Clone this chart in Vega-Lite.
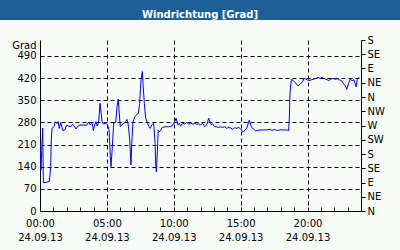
{
  "$schema": "https://vega.github.io/schema/vega-lite/v6.json",
  "autosize": "none",
  "width": 321,
  "height": 171,
  "padding": {"left": 40, "top": 40, "right": 39, "bottom": 39},
  "background": "#f8fcf8",
  "config": {
    "view": {"stroke": null},
    "font": "DejaVu Sans",
    "axis": {
      "labelFont": "DejaVu Sans",
      "labelFontSize": 10,
      "labelColor": "#000000",
      "domainColor": "#000000",
      "tickColor": "#000000",
      "gridColor": "#000000",
      "gridDash": [4, 3],
      "gridOpacity": 1,
      "gridWidth": 1
    }
  },
  "data": {
    "values": [
      {"h": 0.0, "v": 214}, {"h": 0.07, "v": 129}, {"h": 0.2, "v": 262}, {"h": 0.25, "v": 89},
      {"h": 0.7, "v": 93}, {"h": 0.8, "v": 140}, {"h": 0.84, "v": 224}, {"h": 0.9, "v": 261},
      {"h": 1.05, "v": 266}, {"h": 1.14, "v": 282}, {"h": 1.25, "v": 277}, {"h": 1.35, "v": 282},
      {"h": 1.44, "v": 261}, {"h": 1.55, "v": 279}, {"h": 1.7, "v": 254}, {"h": 1.85, "v": 256},
      {"h": 2.0, "v": 271}, {"h": 2.15, "v": 268}, {"h": 2.3, "v": 266}, {"h": 2.44, "v": 274},
      {"h": 2.59, "v": 266}, {"h": 2.69, "v": 259}, {"h": 2.84, "v": 268}, {"h": 2.99, "v": 272},
      {"h": 3.24, "v": 271}, {"h": 3.49, "v": 271}, {"h": 3.64, "v": 281}, {"h": 3.74, "v": 272},
      {"h": 3.89, "v": 279}, {"h": 3.99, "v": 254}, {"h": 4.09, "v": 272}, {"h": 4.19, "v": 282},
      {"h": 4.28, "v": 268}, {"h": 4.39, "v": 285}, {"h": 4.49, "v": 340}, {"h": 4.54, "v": 319},
      {"h": 4.64, "v": 282}, {"h": 4.73, "v": 275}, {"h": 4.93, "v": 277}, {"h": 5.06, "v": 272},
      {"h": 5.16, "v": 256}, {"h": 5.26, "v": 171}, {"h": 5.31, "v": 140}, {"h": 5.41, "v": 203},
      {"h": 5.51, "v": 277}, {"h": 5.66, "v": 279}, {"h": 5.76, "v": 329}, {"h": 5.85, "v": 353},
      {"h": 5.91, "v": 319}, {"h": 6.0, "v": 266}, {"h": 6.11, "v": 272}, {"h": 6.26, "v": 277},
      {"h": 6.41, "v": 282}, {"h": 6.5, "v": 289}, {"h": 6.6, "v": 272}, {"h": 6.71, "v": 224},
      {"h": 6.8, "v": 145}, {"h": 6.86, "v": 214}, {"h": 6.95, "v": 282}, {"h": 7.1, "v": 298},
      {"h": 7.25, "v": 306}, {"h": 7.35, "v": 308}, {"h": 7.45, "v": 340}, {"h": 7.55, "v": 414},
      {"h": 7.65, "v": 440}, {"h": 7.7, "v": 403}, {"h": 7.8, "v": 340}, {"h": 7.9, "v": 293},
      {"h": 8.0, "v": 282}, {"h": 8.15, "v": 266}, {"h": 8.25, "v": 261}, {"h": 8.35, "v": 272},
      {"h": 8.5, "v": 277}, {"h": 8.6, "v": 214}, {"h": 8.65, "v": 151}, {"h": 8.7, "v": 124},
      {"h": 8.8, "v": 214}, {"h": 8.84, "v": 256}, {"h": 8.95, "v": 250}, {"h": 9.05, "v": 256},
      {"h": 9.14, "v": 264}, {"h": 9.35, "v": 266}, {"h": 9.59, "v": 266}, {"h": 9.85, "v": 268},
      {"h": 10.02, "v": 277}, {"h": 10.17, "v": 293}, {"h": 10.32, "v": 272}, {"h": 10.41, "v": 277},
      {"h": 10.52, "v": 268}, {"h": 10.67, "v": 277}, {"h": 10.82, "v": 275}, {"h": 10.97, "v": 279},
      {"h": 11.12, "v": 275}, {"h": 11.27, "v": 277}, {"h": 11.42, "v": 274}, {"h": 11.57, "v": 277},
      {"h": 11.72, "v": 274}, {"h": 11.87, "v": 275}, {"h": 12.02, "v": 273}, {"h": 12.17, "v": 277},
      {"h": 12.32, "v": 266}, {"h": 12.41, "v": 270}, {"h": 12.51, "v": 277}, {"h": 12.61, "v": 293},
      {"h": 12.71, "v": 282}, {"h": 12.81, "v": 272}, {"h": 12.91, "v": 275}, {"h": 13.06, "v": 266},
      {"h": 13.21, "v": 266}, {"h": 13.36, "v": 264}, {"h": 13.51, "v": 266}, {"h": 13.66, "v": 264},
      {"h": 13.81, "v": 266}, {"h": 13.96, "v": 261}, {"h": 14.11, "v": 264}, {"h": 14.26, "v": 262},
      {"h": 14.41, "v": 258}, {"h": 14.56, "v": 263}, {"h": 14.71, "v": 261}, {"h": 14.86, "v": 264},
      {"h": 15.01, "v": 259}, {"h": 15.16, "v": 250}, {"h": 15.31, "v": 254}, {"h": 15.45, "v": 261},
      {"h": 15.65, "v": 287}, {"h": 15.8, "v": 266}, {"h": 15.95, "v": 259}, {"h": 16.1, "v": 254},
      {"h": 16.25, "v": 254}, {"h": 16.45, "v": 256}, {"h": 16.7, "v": 256}, {"h": 16.95, "v": 256},
      {"h": 17.2, "v": 258}, {"h": 17.35, "v": 254}, {"h": 17.55, "v": 258}, {"h": 17.7, "v": 254},
      {"h": 17.94, "v": 256}, {"h": 18.19, "v": 256}, {"h": 18.44, "v": 256}, {"h": 18.59, "v": 254},
      {"h": 18.64, "v": 293}, {"h": 18.69, "v": 372}, {"h": 18.79, "v": 416}, {"h": 18.94, "v": 412},
      {"h": 19.14, "v": 403}, {"h": 19.29, "v": 395}, {"h": 19.44, "v": 401}, {"h": 19.64, "v": 408},
      {"h": 19.74, "v": 420}, {"h": 19.89, "v": 416}, {"h": 20.09, "v": 412}, {"h": 20.28, "v": 414},
      {"h": 20.43, "v": 416}, {"h": 20.64, "v": 419}, {"h": 20.79, "v": 422}, {"h": 20.93, "v": 419},
      {"h": 21.08, "v": 422}, {"h": 21.23, "v": 419}, {"h": 21.38, "v": 416}, {"h": 21.59, "v": 412},
      {"h": 21.73, "v": 416}, {"h": 21.91, "v": 419}, {"h": 22.06, "v": 416}, {"h": 22.23, "v": 418},
      {"h": 22.38, "v": 414}, {"h": 22.53, "v": 412}, {"h": 22.68, "v": 403}, {"h": 22.83, "v": 395},
      {"h": 22.93, "v": 384}, {"h": 23.08, "v": 403}, {"h": 23.18, "v": 416}, {"h": 23.33, "v": 412},
      {"h": 23.48, "v": 414}, {"h": 23.63, "v": 392}, {"h": 23.72, "v": 416}, {"h": 23.87, "v": 422}
    ]
  },
  "encoding": {
    "x": {
      "field": "h",
      "type": "quantitative",
      "scale": {"domain": [0, 24], "nice": false, "zero": false},
      "axis": {
        "title": null,
        "values": [0,1,2,3,4,5,6,7,8,9,10,11,12,13,14,15,16,17,18,19,20,21,22,23,24],
        "tickSize": -4,
        "labelPadding": 11,
        "labelFlush": false,
        "labelOverlap": false,
        "labelLineHeight": 14,
        "labelExpr": "(datum.value % 5 === 0 && datum.value < 24) ? [(datum.value < 10 ? '0' : '') + datum.value + ':00', '24.09.13'] : ''",
        "gridOpacity": {"condition": {"test": "datum.value % 5 === 0 && datum.value > 0 && datum.value < 24", "value": 1}, "value": 0}
      }
    }
  },
  "layer": [
    {
      "mark": {"type": "line", "color": "#0000ff", "strokeWidth": 1, "clip": true},
      "encoding": {
        "y": {
          "field": "v",
          "type": "quantitative",
          "scale": {"domain": [0, 540], "nice": false},
          "axis": {
            "orient": "left",
            "values": [0, 70, 140, 210, 280, 350, 420, 490],
            "ticks": false,
            "labelPadding": 4,
            "title": "Grad",
            "titleAngle": 0,
            "titleAlign": "right",
            "titleBaseline": "alphabetic",
            "titleX": -4,
            "titleY": 8,
            "titleFont": "DejaVu Sans",
            "titleFontSize": 10,
            "titleFontWeight": "normal",
            "titleColor": "#000000"
          }
        }
      }
    },
    {
      "mark": {"type": "point", "size": 0, "strokeWidth": 0, "opacity": 1},
      "encoding": {
        "y": {
          "field": "v",
          "type": "quantitative",
          "scale": {"domain": [0, 540], "nice": false},
          "axis": {
            "orient": "right",
            "title": null,
            "grid": false,
            "values": [0, 45, 90, 135, 180, 225, 270, 315, 360, 405, 450, 495, 540],
            "tickSize": 4,
            "labelPadding": 2,
            "labelFlush": false,
            "labelOverlap": false,
            "labelExpr": "['N','NE','E','SE','S','SW','W','NW'][round(datum.value / 45) % 8]"
          }
        },
        "color": {
          "field": "v",
          "type": "quantitative",
          "scale": {"domain": [0, 540], "range": ["#1c5f97", "#1c5f97"]},
          "legend": {
            "type": "gradient",
            "direction": "horizontal",
            "orient": "none",
            "legendX": -40,
            "legendY": -40,
            "padding": 0,
            "title": null,
            "gradientLength": 400,
            "gradientThickness": 20,
            "gradientStrokeWidth": 0,
            "gradientOpacity": 1,
            "values": [270],
            "labelExpr": "'Windrichtung [Grad]'",
            "labelColor": "#ffffff",
            "labelFont": "DejaVu Sans",
            "labelFontWeight": "bold",
            "labelFontSize": 10,
            "labelBaseline": "middle",
            "labelOffset": -10,
            "labelLimit": 0,
            "labelOverlap": false
          }
        }
      }
    }
  ],
  "resolve": {"axis": {"y": "independent"}}
}
